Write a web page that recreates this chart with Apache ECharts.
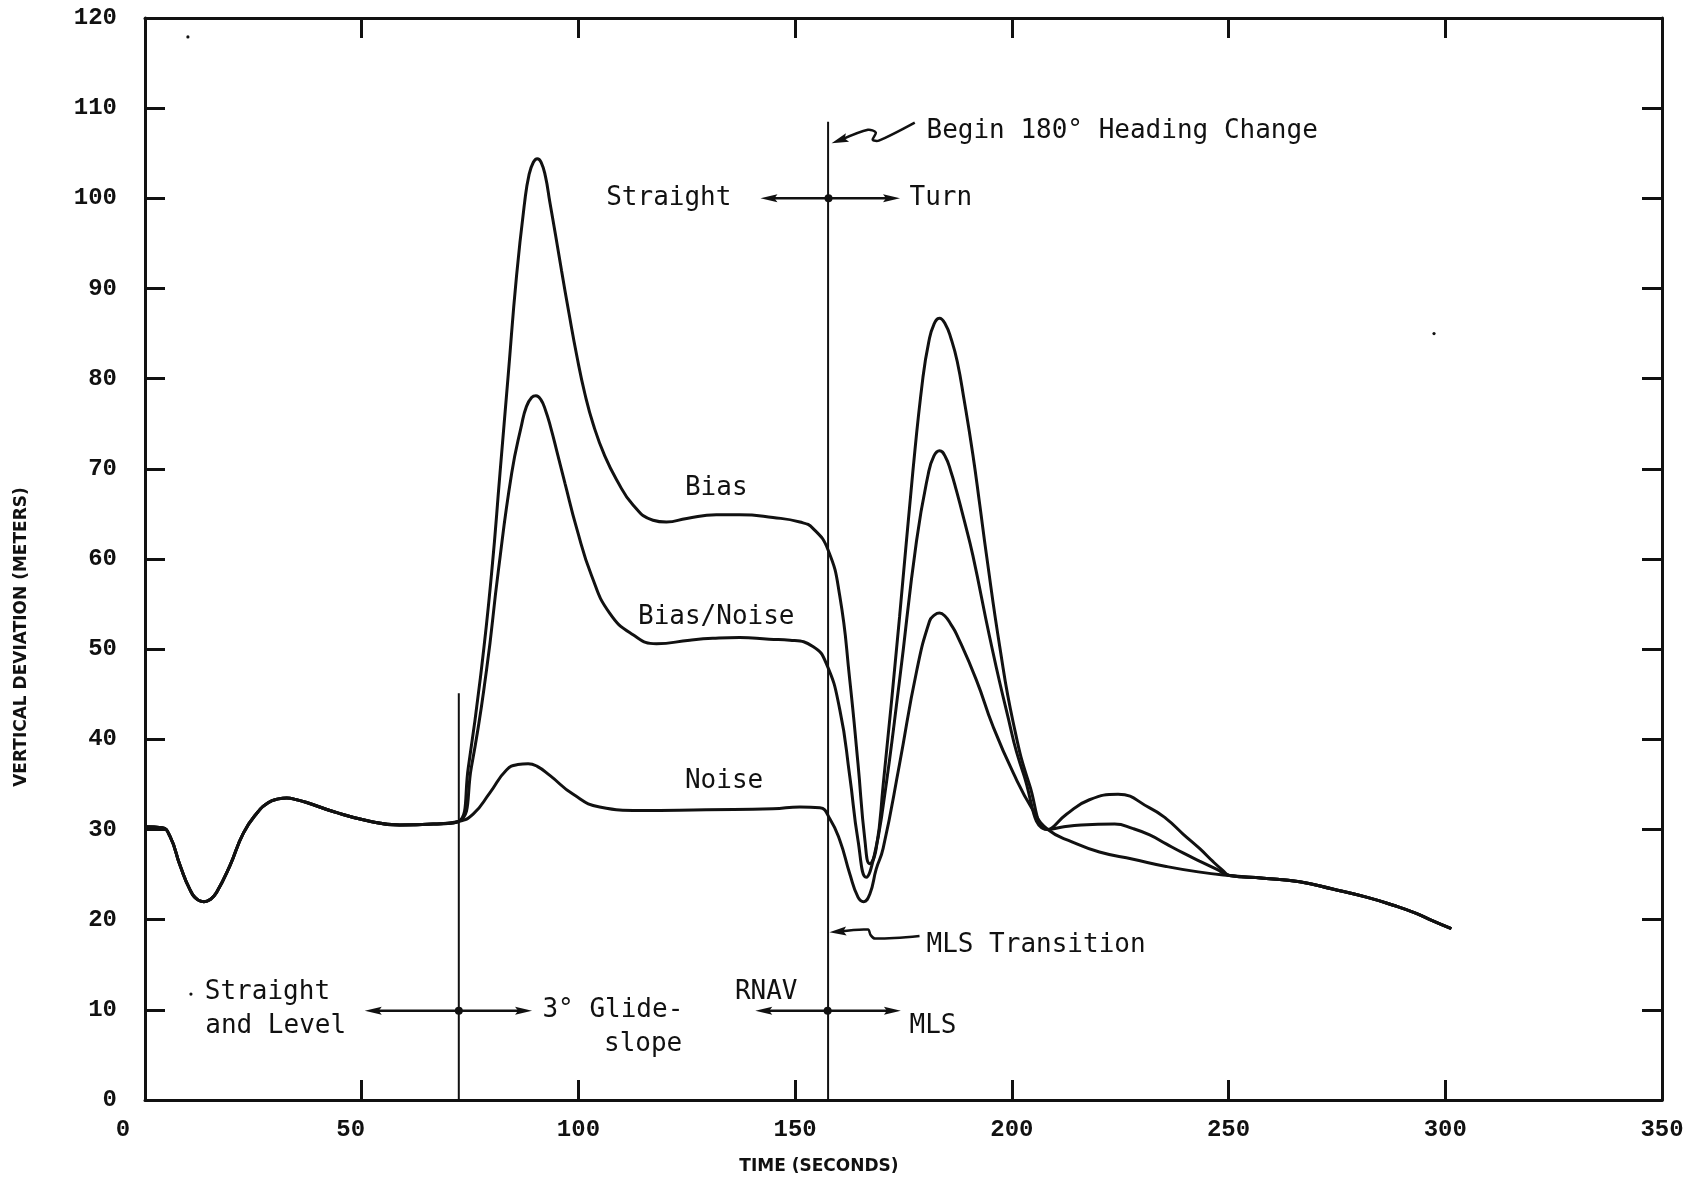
<!DOCTYPE html>
<html>
<head>
<meta charset="utf-8">
<script src="https://cdn.jsdelivr.net/npm/echarts@6/dist/echarts.min.js"></script>
<style>
html,body{margin:0;padding:0;background:#fff;}
#main{width:1695px;height:1179px;}
</style>
</head>
<body>
<div id="main"></div>
<script>
// ---- Tick labels ----
const xTicks = [0, 50, 100, 150, 200, 250, 300, 350];
const yTicks = [0, 10, 20, 30, 40, 50, 60, 70, 80, 90, 100, 110, 120];

// ---- Series values [time (s), vertical deviation (m)] ----
// Common segment (straight and level flight), shared by all three runs
const commonStart = [
  [0, 30.3], [3.9, 30.2], [5.8, 29.2], [8.1, 26.0], [10.4, 23.3], [12.2, 22.2], [13.6, 22.0],
  [15.2, 22.3], [16.5, 23.0], [19.6, 26.0], [22.7, 29.6], [25.8, 31.8], [28.5, 33.0],
  [30.8, 33.4], [32.7, 33.5], [35.0, 33.3], [37.3, 33.0], [43.4, 32.0], [51.1, 31.0],
  [58.8, 30.5], [66.5, 30.6], [72.4, 30.9]
];
// Common final segment
const commonEnd = [
  [250.2, 24.9], [258.0, 24.6], [266.4, 24.2], [274.0, 23.4], [281.8, 22.5],
  [288.0, 21.6], [293.3, 20.7], [297.0, 19.9], [301.4, 19.0]
];
const biasValues = [
  [74.6, 36.9], [77.6, 47.7], [80.0, 58.6], [81.9, 69.5], [83.8, 80.4], [85.7, 91.3],
  [87.6, 99.6], [88.6, 102.6], [89.6, 104.0], [90.5, 104.4], [91.4, 104.0], [92.4, 102.4],
  [93.4, 99.6], [94.7, 96.0], [96.1, 92.0], [97.8, 87.3], [99.6, 82.6], [101.5, 78.3],
  [103.5, 74.8], [106.1, 71.4], [108.8, 68.8], [112.6, 66.0], [117.2, 64.3], [120.3, 64.1],
  [125.0, 64.5], [131.8, 64.9], [137.2, 64.9], [144.9, 64.6], [151.1, 64.1], [154.1, 63.4],
  [157.6, 61.0], [160.3, 55.9], [162.6, 46.6], [164.5, 37.3], [166.1, 28.8], [167.2, 26.2],
  [168.7, 27.9], [170.3, 34.9], [174.1, 53.6], [177.2, 69.9], [179.5, 80.2], [180.8, 84.0],
  [182.0, 86.0], [183.3, 86.7], [184.6, 86.1], [186.0, 84.4], [187.4, 81.9], [189.0, 77.6],
  [191.0, 71.6], [192.6, 66.0], [194.1, 60.6], [197.2, 50.3], [200.3, 41.9], [204.1, 34.9],
  [208.3, 30.0], [212.6, 31.7], [217.9, 33.3], [224.5, 33.9], [231.8, 32.4], [235.6, 31.2],
  [239.5, 29.5], [243.3, 27.9], [246.5, 26.4], [248.6, 25.5]
];
const biasNoiseValues = [
  [75.3, 36.9], [78.8, 47.7], [81.5, 58.6], [84.6, 69.5], [86.9, 74.9], [88.0, 76.9],
  [89.2, 77.9], [90.2, 78.1], [91.3, 77.7], [92.4, 76.5], [93.6, 74.6], [95.2, 71.6],
  [96.9, 68.4], [99.6, 63.4], [103.0, 58.2], [107.2, 54.0], [112.6, 51.6], [118.0, 50.6],
  [125.7, 51.0], [131.0, 51.2], [137.2, 51.3], [144.0, 51.1], [148.8, 51.0], [154.1, 50.3],
  [157.2, 48.4], [160.3, 43.3], [162.6, 35.9], [164.5, 28.8], [166.4, 24.7], [168.2, 27.0],
  [170.3, 32.6], [174.1, 46.6], [178.0, 62.0], [180.7, 69.4], [182.0, 71.4], [183.3, 72.0],
  [184.6, 71.4], [186.0, 69.6], [187.2, 67.6], [189.0, 64.3], [191.0, 60.4], [194.9, 51.3],
  [198.7, 43.3], [202.6, 36.3], [208.3, 30.0], [212.0, 30.3], [216.0, 30.5], [223.7, 30.6],
  [228.0, 30.1], [231.8, 29.4], [235.6, 28.4], [239.5, 27.4], [243.3, 26.5], [247.2, 25.6]
];
const noiseValues = [
  [75.7, 31.7], [79.6, 34.1], [83.4, 36.6], [86.0, 37.2], [88.4, 37.3], [90.5, 37.0],
  [93.4, 36.0], [98.8, 33.9], [104.9, 32.5], [114.2, 32.1], [129.5, 32.2], [144.9, 32.3],
  [151.1, 32.5], [155.7, 32.4], [158.0, 31.2], [160.3, 28.8], [162.6, 25.1], [164.5, 22.5],
  [165.8, 22.0], [167.2, 22.8], [168.7, 25.6], [170.3, 27.9], [174.1, 37.3], [178.0, 47.5],
  [181.0, 53.1], [182.2, 53.8], [183.3, 54.0], [184.5, 53.7], [186.0, 52.7], [187.2, 51.7],
  [191.8, 46.6], [195.6, 41.5], [200.3, 36.3], [204.9, 32.1], [208.3, 30.0], [214.0, 28.6],
  [220.2, 27.5], [228.0, 26.7], [235.6, 25.9], [243.0, 25.3]
];

// ---- Annotations (data coordinates) ----
const phaseLines = [
  { t: 72.4, y0: 0, y1: 45.1 },
  { t: 157.6, y0: 0, y1: 108.5 }
];
const phaseArrows = [
  { y: 9.9, mid: 72.4, left: 50.7, right: 89.3 },
  { y: 100, mid: 157.7, left: 142.0, right: 174.2 },
  { y: 9.9, mid: 157.5, left: 140.8, right: 174.4 }
];
const beginPointer = [[177.6, 108.4], [169.3, 106.4], [167.9, 106.5], [168.6, 107.3], [166.8, 107.6], [158.4, 106.1]];
const mlsPointer = [[178.7, 18.2], [168.4, 17.9], [167.4, 18.3], [166.8, 18.9], [157.9, 18.6]];
const notes = [
  { text: 'Straight', t: 106.4, y: 100, align: 'left' },
  { text: 'Turn', t: 176.4, y: 100, align: 'left' },
  { text: 'Begin 180\u00b0 Heading Change', t: 180.3, y: 107.4, align: 'left' },
  { text: 'Bias', t: 131.8, y: 67.8, align: 'center' },
  { text: 'Bias/Noise', t: 131.8, y: 53.5, align: 'center' },
  { text: 'Noise', t: 133.6, y: 35.3, align: 'center' },
  { text: 'Straight', t: 13.8, y: 11.9, align: 'left' },
  { text: 'and Level', t: 13.9, y: 8.2, align: 'left' },
  { text: '3\u00b0 Glide-', t: 91.7, y: 9.9, align: 'left' },
  { text: 'slope', t: 105.9, y: 6.2, align: 'left' },
  { text: 'RNAV', t: 136.1, y: 12.0, align: 'left' },
  { text: 'MLS Transition', t: 180.3, y: 17.2, align: 'left' },
  { text: 'MLS', t: 176.4, y: 8.2, align: 'left' }
];
const specks = [[9.9, 117.9], [297.4, 85.0], [10.6, 11.75]];

// ---- Build chart ----
const INK = '#111';
const tickFont = { fontFamily: 'Liberation Mono', fontWeight: 'bold', fontSize: 24, color: INK };
function axisCommon(extra) {
  return Object.assign({
    type: 'value',
    axisLine: { show: true, onZero: false, lineStyle: { color: INK, width: 3 } },
    axisTick: { show: true, inside: true, length: 20, lineStyle: { color: INK, width: 3 } },
    splitLine: { show: false }
  }, extra);
}
const lineStyle = { color: INK, width: 3 };
function mkSeries(name, vals) {
  return {
    name: name, type: 'line', xAxisIndex: 0, yAxisIndex: 0,
    data: commonStart.concat(vals, commonEnd),
    smooth: 0.5, showSymbol: false, symbol: 'none', silent: true,
    lineStyle: lineStyle, z: 5
  };
}

const chart = echarts.init(document.getElementById('main'), null, { renderer: 'canvas' });
chart.setOption({
  animation: false,
  backgroundColor: '#fff',
  grid: { left: 145, right: 33, top: 18, bottom: 79, containLabel: false },
  xAxis: [
    axisCommon({
      position: 'bottom', min: xTicks[0], max: xTicks[xTicks.length - 1], interval: 50,
      axisLabel: Object.assign({
        margin: 18,
        formatter: function (v) { return v === 0 ? '{a|0}' : (v === 50 ? '{b|50}' : String(v)); },
        rich: {
          a: Object.assign({ padding: [0, 44, 0, 0] }, tickFont),
          b: Object.assign({ padding: [0, 22, 0, 0] }, tickFont)
        }
      }, tickFont)
    }),
    axisCommon({
      position: 'top', min: xTicks[0], max: xTicks[xTicks.length - 1], interval: 50,
      axisLabel: { show: false }
    })
  ],
  yAxis: [
    axisCommon({
      position: 'left', min: yTicks[0], max: yTicks[yTicks.length - 1], interval: 10,
      axisLabel: Object.assign({ margin: 28 }, tickFont)
    }),
    axisCommon({
      position: 'right', min: yTicks[0], max: yTicks[yTicks.length - 1], interval: 10,
      axisLabel: { show: false }
    })
  ],
  series: [
    mkSeries('Bias', biasValues),
    mkSeries('Bias/Noise', biasNoiseValues),
    mkSeries('Noise', noiseValues)
  ]
});

// ---- Annotation graphics positioned through the axes' scales ----
function P(t, y) { return chart.convertToPixel({ xAxisIndex: 0, yAxisIndex: 0 }, [t, y]); }
function arrowHead(tip, from, len, half) {
  const dx = tip[0] - from[0], dy = tip[1] - from[1];
  const d = Math.sqrt(dx * dx + dy * dy) || 1;
  const ux = dx / d, uy = dy / d;
  const bx = tip[0] - ux * len, by = tip[1] - uy * len;
  return [tip, [bx - uy * half, by + ux * half], [bx + ux * 3, by + uy * 3], [bx + uy * half, by - ux * half]];
}
const g = [];
phaseLines.forEach(function (l) {
  const a = P(l.t, l.y0), b = P(l.t, l.y1);
  g.push({ type: 'line', shape: { x1: a[0], y1: a[1], x2: b[0], y2: b[1] }, style: { stroke: INK, lineWidth: 2 }, z: 10 });
});
phaseArrows.forEach(function (ar) {
  const L = P(ar.left, ar.y), M = P(ar.mid, ar.y), R = P(ar.right, ar.y);
  g.push({ type: 'line', shape: { x1: L[0] + 8, y1: L[1], x2: R[0] - 8, y2: R[1] }, style: { stroke: INK, lineWidth: 2.5 }, z: 11 });
  g.push({ type: 'polygon', shape: { points: arrowHead(L, M, 17, 4) }, style: { fill: INK }, z: 11 });
  g.push({ type: 'polygon', shape: { points: arrowHead(R, M, 17, 4) }, style: { fill: INK }, z: 11 });
  g.push({ type: 'circle', shape: { cx: M[0], cy: M[1], r: 4 }, style: { fill: INK }, z: 12 });
});
[beginPointer, mlsPointer].forEach(function (pts) {
  const px = pts.map(function (p) { return P(p[0], p[1]); });
  const tip = px[px.length - 1], prev = px[px.length - 2];
  const dx = tip[0] - prev[0], dy = tip[1] - prev[1], d = Math.sqrt(dx * dx + dy * dy);
  const shaft = px.slice(0, -1).concat([[tip[0] - dx / d * 10, tip[1] - dy / d * 10]]);
  g.push({ type: 'polyline', shape: { points: shaft, smooth: 0.3 }, style: { stroke: INK, lineWidth: 2.5, fill: null, lineJoin: 'round' }, z: 11 });
  g.push({ type: 'polygon', shape: { points: arrowHead(tip, prev, 17, 4.5) }, style: { fill: INK }, z: 11 });
});
notes.forEach(function (n) {
  const p = P(n.t, n.y);
  g.push({
    type: 'text', x: p[0], y: p[1], z: 15,
    style: { text: n.text, fill: INK, font: '26px "DejaVu Sans Mono"', align: n.align, verticalAlign: 'middle' }
  });
});
specks.forEach(function (s) {
  const p = P(s[0], s[1]);
  g.push({ type: 'circle', shape: { cx: p[0], cy: p[1], r: 1.6 }, style: { fill: INK }, z: 15 });
});
// Axis titles
g.push({
  type: 'text', x: 22, y: 637, rotation: Math.PI / 2, z: 15,
  style: { text: 'VERTICAL DEVIATION (METERS)', fill: INK, font: 'bold 17px "DejaVu Sans"', align: 'center', verticalAlign: 'middle' }
});
g.push({
  type: 'text', x: 819, y: 1167, z: 15,
  style: { text: 'TIME (SECONDS)', fill: INK, font: 'bold 17px "DejaVu Sans"', align: 'center', verticalAlign: 'middle' }
});
chart.setOption({ graphic: g });
</script>
</body>
</html>
